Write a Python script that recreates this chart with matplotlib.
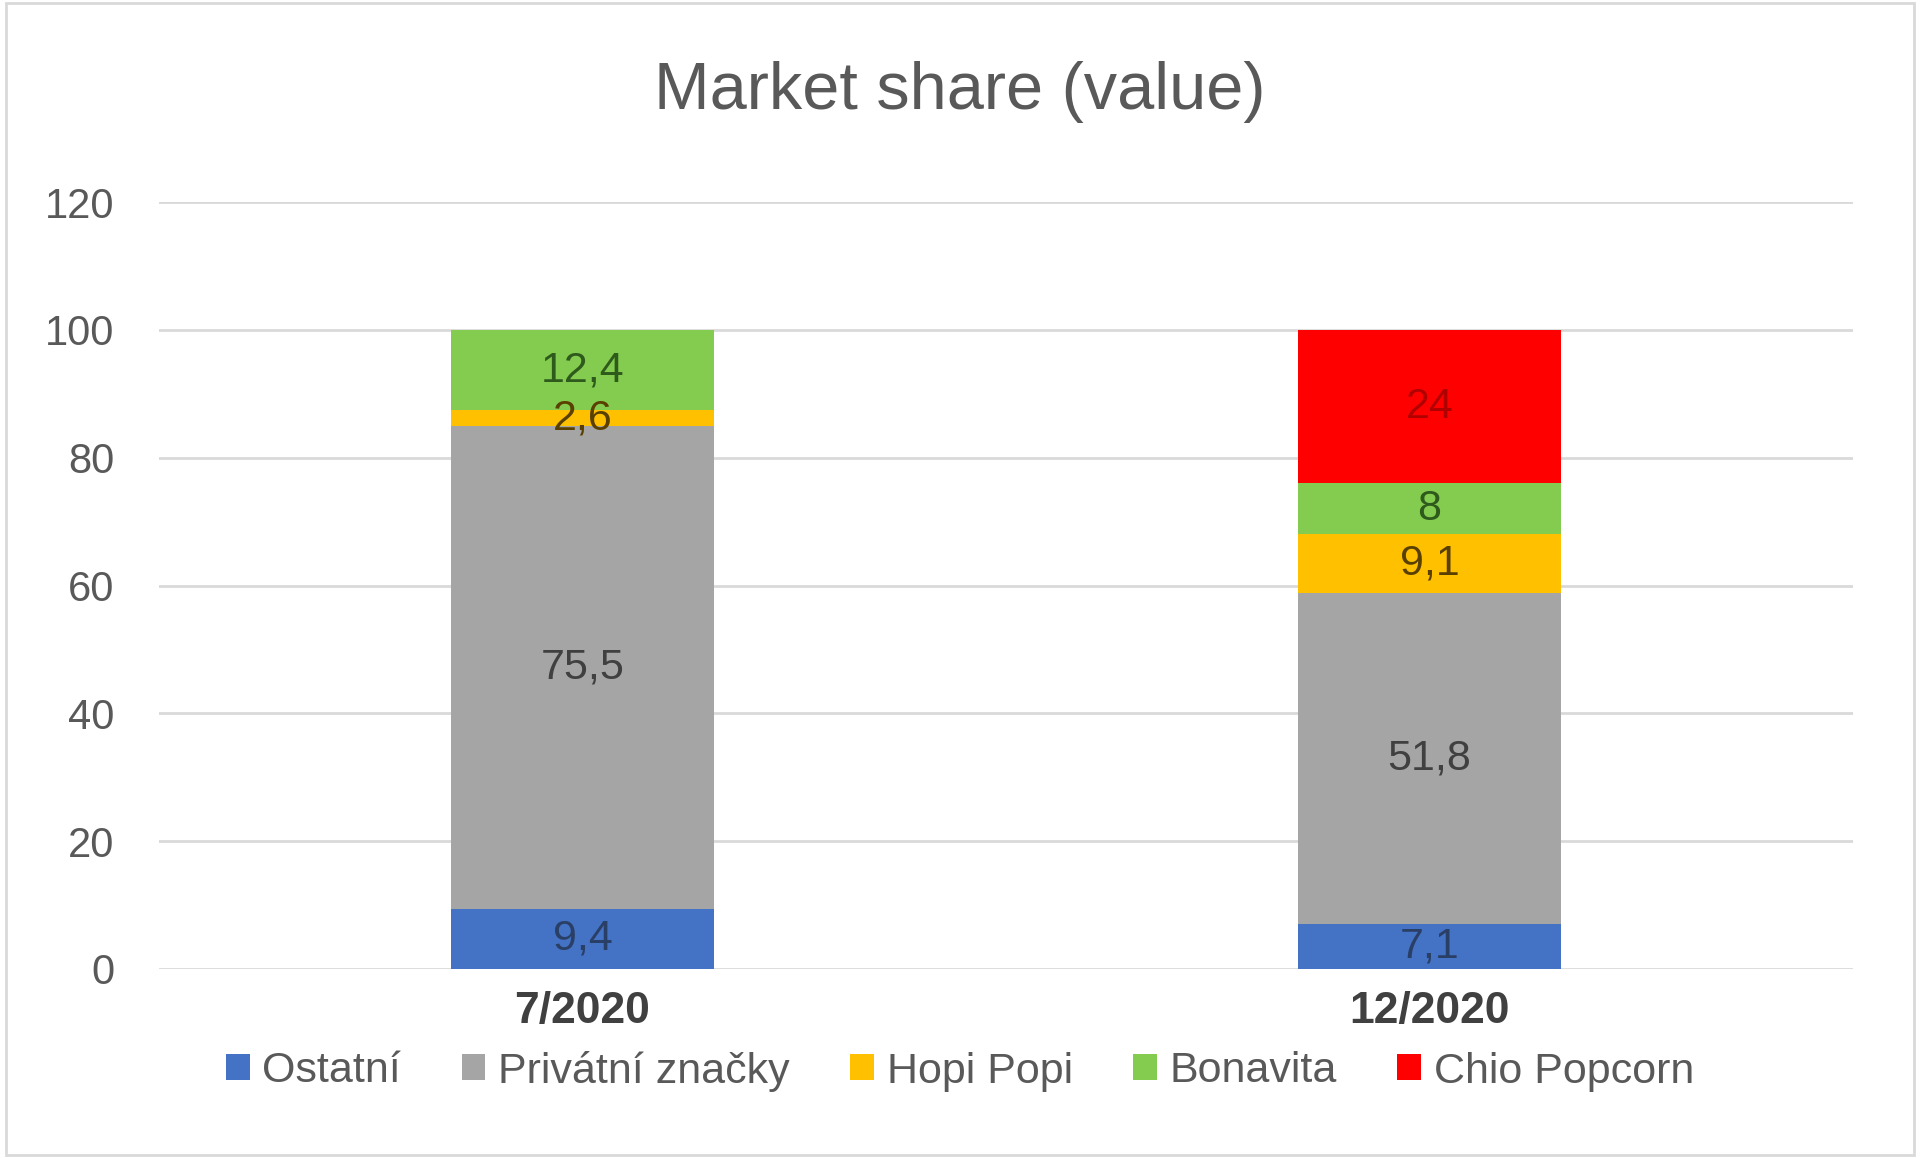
import matplotlib
matplotlib.use("Agg")
import matplotlib.pyplot as plt
import numpy as np

categories = ["7/2020", "12/2020"]
series_names = ["Ostatní", "Privátní značky", "Hopi Popi", "Bonavita", "Chio Popcorn"]
ostatni = [9.4, 7.1]
privatni = [75.5, 51.8]
hopi = [2.6, 9.1]
bonavita = [12.4, 8.0]
chio = [0.0, 24.0]
labels_text = [["9,4", "7,1"], ["75,5", "51,8"], ["2,6", "9,1"], ["12,4", "8"], ["", "24"]]
yticks = [0, 20, 40, 60, 80, 100, 120]

colors = ["#4472c4", "#a5a5a5", "#ffc000", "#84cc50", "#ff0000"]
label_colors = ["#2a3f66", "#404040", "#5a4000", "#2e5a1c", "#b00000"]

plt.rcParams['font.family'] = ['Liberation Sans', 'DejaVu Sans']
fig = plt.figure(figsize=(19.2, 11.58), dpi=100)
ax = fig.add_axes([159/1920, 1 - 969/1158, (1853-159)/1920, (969-202)/1158])

x = np.arange(len(categories))
data = [ostatni, privatni, hopi, bonavita, chio]
bottom = np.zeros(len(categories))
width = 0.31
for i, (vals, name) in enumerate(zip(data, series_names)):
    vals = np.array(vals)
    ax.bar(x, vals, width, bottom=bottom, color=colors[i], label=name, zorder=3)
    for j in range(len(categories)):
        if labels_text[i][j]:
            ax.text(x[j], bottom[j] + vals[j] / 2, labels_text[i][j], ha="center", va="center",
                    fontsize=31, color=label_colors[i], zorder=4)
    bottom += vals

ax.set_xlim(-0.5, 1.5)
ax.set_ylim(0, 120)
ax.set_yticks(yticks)
ax.set_yticklabels([str(t) for t in yticks], fontsize=30, color="#595959")
ax.set_xticks(x)
ax.set_xticklabels(categories, fontsize=32, fontweight="bold", color="#404040")
ax.tick_params(axis="both", length=0)
ax.tick_params(axis="y", pad=32)
ax.tick_params(axis="x", pad=16)
ax.grid(axis="y", color="#d9d9d9", linewidth=2, zorder=0)
for s in ax.spines.values():
    s.set_visible(False)

fig.text(0.5, 1 - 92/1158, "Market share (value)", ha="center", va="center",
         fontsize=48, color="#595959")

leg = fig.legend(loc="center", bbox_to_anchor=(0.5, 1 - 1071/1158), ncol=5, frameon=False,
                 fontsize=31, handlelength=0.55, handleheight=0.55, handletextpad=0.3,
                 columnspacing=1.4, labelcolor="#595959")

border = plt.Rectangle((0.003, 0.003), 0.994, 0.994, transform=fig.transFigure,
                       fill=False, edgecolor="#d9d9d9", linewidth=2)
fig.add_artist(border)

fig.savefig("out.png", dpi=100, facecolor="white")
